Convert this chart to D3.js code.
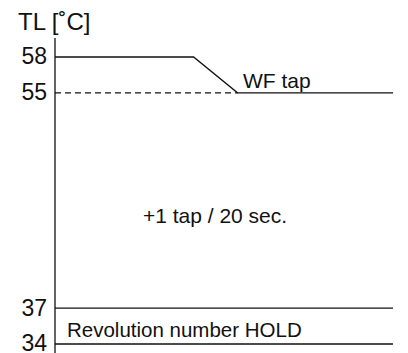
<!DOCTYPE html>
<html>
<head>
<meta charset="utf-8">
<script src="https://d3js.org/d3.v7.min.js"></script>
<style>
body { margin: 0; background: #fff; }
text { font-family: "Liberation Sans", Arial, sans-serif; fill: #111; }
.line { fill: none; stroke: #111; stroke-width: 1.3; }
.dash { fill: none; stroke: #111; stroke-width: 1.3; stroke-dasharray: 6,4; }
</style>
</head>
<body>
<svg id="svg0" width="408" height="353"></svg>
<script>
// temperature ticks
var tlTicks = [34, 37, 55, 58];
// time (relative %) / TL
var tapT = [0, 41, 54, 100];
var tapV = [58, 58, 55, 55];
var dashT = [0, 54];
var dashV = [55, 55];
var holdLevels = [37, 34];

var svg = d3.select("#svg0");
var width = 408, height = 353;
var left = 55, right = 393;

var xScale = d3.scaleLinear().domain([0, 100]).range([left, right]);
var yScale = d3.scaleLinear().domain([34, 58]).range([344, 57]);

var line = d3.line()
	.x(function(d){return xScale(d.t);})
	.y(function(d){return yScale(d.v);});

var tapData = tapT.map(function(t, i){return {t: t, v: tapV[i]};});
var dashData = dashT.map(function(t, i){return {t: t, v: dashV[i]};});

svg.append("path").attr("class", "line").attr("d", line(tapData));
svg.append("path").attr("class", "dash").attr("d", line(dashData));

svg.selectAll("line.hold")
	.data(holdLevels)
	.enter().append("line")
	.attr("class", "line")
	.attr("x1", xScale(0)).attr("x2", xScale(100))
	.attr("y1", function(d){return yScale(d);})
	.attr("y2", function(d){return yScale(d);});

// y axis
var yAxis = svg.append("g")
	.attr("transform", "translate(" + left + ",0)")
	.call(d3.axisLeft(yScale).tickValues(tlTicks).tickSize(0).tickPadding(8));
yAxis.select(".domain").remove();
yAxis.selectAll("text").style("font-size", "23px").attr("font-family", null).attr("dy", "0.3em");

svg.append("line")
	.attr("class", "line")
	.attr("x1", left).attr("x2", left)
	.attr("y1", 38).attr("y2", height);

svg.append("text").attr("x", 18).attr("y", 30).style("font-size", "24px").text("TL [˚C]");
svg.append("text").attr("x", 243).attr("y", 88).style("font-size", "21px").text("WF tap");
svg.append("text").attr("x", 215).attr("y", 223).attr("text-anchor", "middle").style("font-size", "21px").text("+1 tap / 20 sec.");
svg.append("text").attr("x", 67).attr("y", 337).style("font-size", "20.5px").text("Revolution number HOLD");
</script>
</body>
</html>
